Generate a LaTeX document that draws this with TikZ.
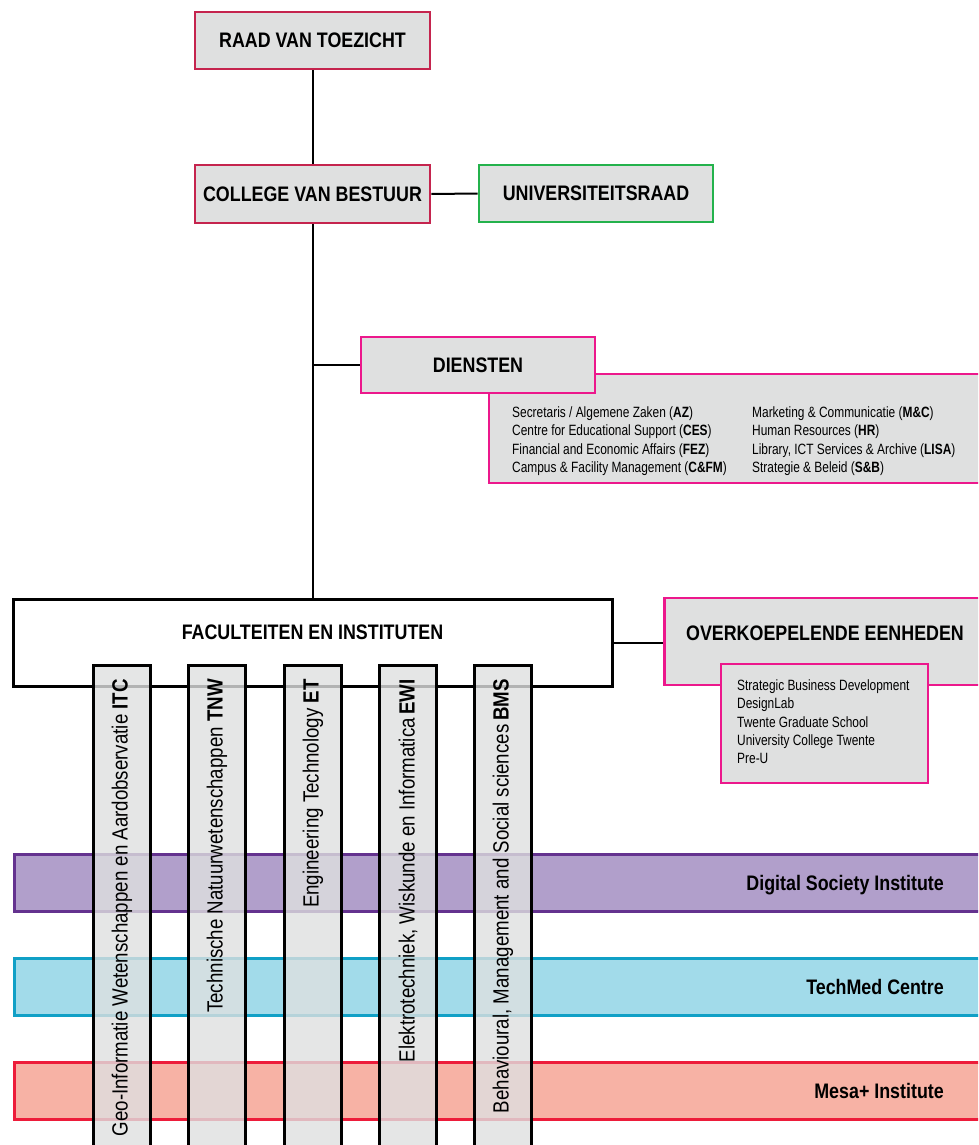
\documentclass[tikz,border=0pt]{standalone}
\usepackage{fontspec}
\setmainfont{Liberation Sans}
\newfontfamily\hdfont{Liberation Sans}[FakeStretch=0.85]
\newfontfamily\smfont{Liberation Sans}[FakeStretch=0.80]
\newfontfamily\colfont{Liberation Sans}[FakeStretch=0.85]
\definecolor{boxgrey}{RGB}{223,224,224}
\definecolor{crim}{RGB}{197,36,78}
\definecolor{grn}{RGB}{36,178,76}
\definecolor{mag}{RGB}{236,24,140}
\definecolor{purfill}{RGB}{177,159,203}
\definecolor{purline}{RGB}{100,50,143}
\definecolor{cyfill}{RGB}{162,219,234}
\definecolor{cyline}{RGB}{16,160,198}
\definecolor{salfill}{RGB}{247,178,165}
\definecolor{salline}{RGB}{237,28,58}
\begin{document}
\begin{tikzpicture}[x=1pt,y=-1pt,
  box/.style={draw, line width=2.7pt, fill=boxgrey, inner sep=0pt,
    font=\hdfont\bfseries\fontsize{21}{24}\selectfont},
  plain/.style={draw, line width=2.7pt, fill=boxgrey, inner sep=0pt},
  hdtext/.style={inner sep=0pt, font=\hdfont\bfseries\fontsize{21}{24}\selectfont},
  smtext/.style={inner sep=0pt, align=left, anchor=north west,
    font=\smfont\fontsize{14.9}{18.4}\selectfont},
  band/.style={draw, line width=3pt, inner sep=0pt, minimum width=978pt, minimum height=57pt, anchor=west},
  col/.style={draw=black, line width=3pt, fill=boxgrey, fill opacity=0.8, inner sep=0pt,
    minimum width=57pt, minimum height=520pt, anchor=north},
  coltext/.style={inner sep=0pt, rotate=90, anchor=east,
    font=\colfont\fontsize{22}{26}\selectfont},
  link/.style={line width=2pt, draw=black}]
\useasboundingbox (0,0) rectangle (978,1145);
\clip (0,0) rectangle (978,1145);
\fill[white] (0,0) rectangle (978,1145);

% top boxes
\node[box, draw=crim, minimum width=235pt, minimum height=57pt] (raad) at (312.5,40.5) {RAAD VAN TOEZICHT};
\node[box, draw=crim, minimum width=235pt, minimum height=58pt] (college) at (312.5,194) {COLLEGE VAN BESTUUR};
\node[box, draw=grn, minimum width=234pt, minimum height=57pt] (univ) at (596,193.5) {UNIVERSITEITSRAAD};

% faculteiten box
\node[draw=black, line width=3pt, fill=white, inner sep=0pt, minimum width=599pt, minimum height=87pt] (fac) at (312.5,642.5) {};
\node[hdtext] (factext) at (312.5,632) {FACULTEITEN EN INSTITUTEN};

% connectors
\draw[link] (raad.south) -- (college.north);
\draw[link] (college.east) -- (univ.west);
\draw[link] (college.south) -- (college.south |- fac.north);

% diensten
\node[plain, draw=mag, minimum width=500pt, minimum height=109pt] (dienstdet) at (739,428.5) {};
\node[box, draw=mag, minimum width=234pt, minimum height=56pt] (diensten) at (478,365) {DIENSTEN};
\draw[link] (college.south |- diensten.west) -- (diensten.west);
\node[smtext] (dl) at (512,406.2) {Secretaris / Algemene Zaken (\textbf{AZ})\\
Centre for Educational Support (\textbf{CES})\\
Financial and Economic Affairs (\textbf{FEZ})\\
Campus \& Facility Management (\textbf{C\&FM})};
\node[smtext] (dr) at (752,406.2) {Marketing \& Communicatie (\textbf{M\&C})\\
Human Resources (\textbf{HR})\\
Library, ICT Services \& Archive (\textbf{LISA})\\
Strategie \& Beleid (\textbf{S\&B})};

% overkoepelende eenheden
\node[plain, draw=mag, minimum width=327pt, minimum height=87pt, anchor=west] (overk) at (663,641.5) {};
\node[hdtext] (overktext) at (825,633) {OVERKOEPELENDE EENHEDEN};
\node[plain, draw=mag, minimum width=207pt, minimum height=119pt] (overkdet) at (824.5,723.5) {};
\node[smtext] (ol) at (737,679.3) {Strategic Business Development\\
DesignLab\\
Twente Graduate School\\
University College Twente\\
Pre-U};
\draw[link] (fac.east) -- (overk.west |- fac.east);

% bands
\node[band, draw=purline, fill=purfill] (dsi) at (13,883) {};
\node[band, draw=cyline, fill=cyfill] (tmc) at (13,987) {};
\node[band, draw=salline, fill=salfill] (mesa) at (13,1091) {};
\node[hdtext, anchor=base east] (dsit) at (944,890.5) {Digital Society Institute};
\node[hdtext, anchor=base east] (tmct) at (944,994.5) {TechMed Centre};
\node[hdtext, anchor=base east] (mesat) at (944,1098.5) {Mesa+ Institute};

% faculty columns
\node[col] (itc) at (122,663.5) {};
\node[col] (tnw) at (217,663.5) {};
\node[col] (et) at (313,663.5) {};
\node[col] (ewi) at (408,663.5) {};
\node[col] (bms) at (503,663.5) {};
\node[coltext] (itct) at (itc.north |- 0,679) {Geo-Informatie Wetenschappen en Aardobservatie \textbf{ITC}};
\node[coltext] (tnwt) at (tnw.north |- 0,679) {Technische Natuurwetenschappen \textbf{TNW}};
\node[coltext] (ett) at (et.north |- 0,679) {Engineering Technology \textbf{ET}};
\node[coltext] (ewit) at (ewi.north |- 0,679) {Elektrotechniek, Wiskunde en Informatica\,\textbf{EWI}};
\node[coltext] (bmst) at (bms.north |- 0,679) {Behavioural, Management and Social sciences\,\textbf{BMS}};
\end{tikzpicture}
\end{document}
